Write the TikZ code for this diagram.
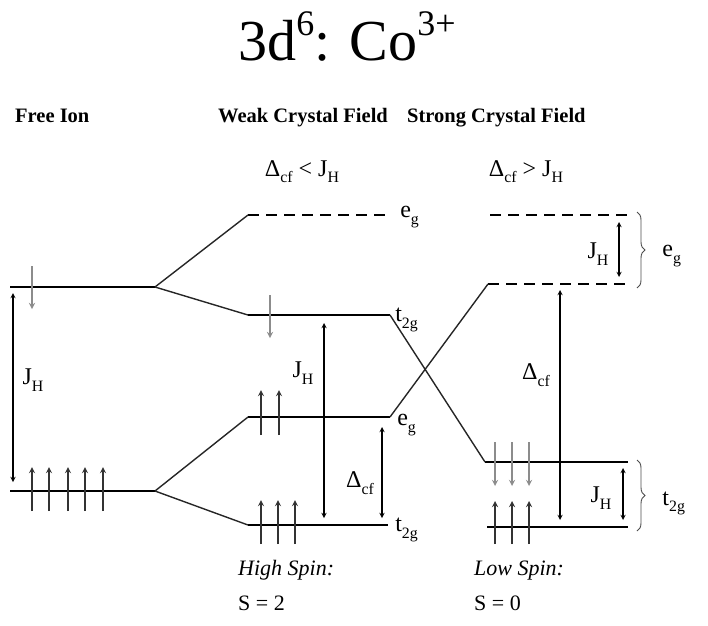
\documentclass[tikz,border=0pt]{standalone}
\usepackage{fontspec}
\setmainfont{Liberation Serif}
\usetikzlibrary{decorations.pathreplacing}

\newcommand{\bajo}[1]{\raisebox{-0.28em}{\scalebox{0.66}{#1}}}
\newcommand{\alto}[1]{\raisebox{0.42em}{\scalebox{0.62}{#1}}}

\tikzset{
    nivel/.style={line width=2.6pt},
    nivelrayado/.style={line width=2.6pt, dash pattern=on 11pt off 7pt},
    enlace/.style={line width=1.4pt, black!85},
    espinarriba/.style={->, line width=1.7pt, black!80},
    espinabajo/.style={->, line width=1.7pt, black!45},
    brecha/.style={<->, line width=1.3pt},
    llave/.style={decorate, decoration={brace, amplitude=8pt}, line width=0.9pt, black!70},
    encab/.style={font=\bfseries\fontsize{20.5}{23}\selectfont, inner sep=0pt},
    etq/.style={font=\fontsize{24}{26}\selectfont, inner sep=1pt, text=black},
    espin/.style={font=\fontsize{22}{24}\selectfont, inner sep=0pt, anchor=base west}
}

\begin{document}
\begin{tikzpicture}[x=1pt, y=-1pt, >=stealth]
    \useasboundingbox (0,0) rectangle (708,625);

    % 1. Título y encabezados de columnas
    \node[font=\fontsize{58}{62}\selectfont, anchor=base] (titulo) at (347,60) {3d\alto{6}: Co\alto{3+}};
    \node[encab, anchor=base west] (libre) at (15,122) {Free Ion};
    \node[encab, anchor=base west] (debil) at (218,122) {Weak Crystal Field};
    \node[encab, anchor=base west] (fuerte) at (407,122) {Strong Crystal Field};
    \node[etq, anchor=base] (condDebil) at (302,176) {Δ\bajo{cf} < J\bajo{H}};
    \node[etq, anchor=base] (condFuerte) at (526,176) {Δ\bajo{cf} > J\bajo{H}};

    % 2. Niveles del ion libre
    \coordinate (FU1) at (10,287);  \coordinate (FU2) at (155,287);
    \coordinate (FL1) at (10,491);  \coordinate (FL2) at (155,491);
    \draw[nivel] (FU1) -- (FU2);
    \draw[nivel] (FL1) -- (FL2);

    % 3. Niveles del campo débil
    \coordinate (WE1) at (248,215); \coordinate (WE2) at (390,215);
    \coordinate (WT1) at (248,315); \coordinate (WT2) at (390,315);
    \coordinate (We1) at (248,417); \coordinate (We2) at (390,417);
    \coordinate (Wt1) at (248,525); \coordinate (Wt2) at (388,525);
    \draw[nivelrayado] (WE1) -- (WE2) node[etq, right=8pt, yshift=-2pt] {e\bajo{g}};
    \draw[nivel] (WT1) -- (WT2) node[etq, anchor=west, xshift=3pt, yshift=-5pt] {t\bajo{2g}};
    \draw[nivel] (We1) -- (We2) node[etq, anchor=west, xshift=5pt, yshift=-8pt] {e\bajo{g}};
    \draw[nivel] (Wt1) -- (Wt2) node[etq, anchor=west, xshift=5pt, yshift=-5pt] {t\bajo{2g}};

    % 4. Niveles del campo fuerte
    \coordinate (SE1) at (490,215); \coordinate (SE2) at (628,215);
    \coordinate (Se1) at (488,284); \coordinate (Se2) at (628,284);
    \coordinate (St1) at (485,462); \coordinate (St2) at (628,462);
    \coordinate (Su1) at (487,527); \coordinate (Su2) at (628,527);
    \draw[nivelrayado] (SE1) -- (SE2);
    \draw[nivelrayado] (Se1) -- (Se2);
    \draw[nivel] (St1) -- (St2);
    \draw[nivel] (Su1) -- (Su2);

    % Llaves que agrupan los niveles desdoblados
    \draw[llave] (637,212) -- (637,288) node[etq, midway, right=24pt, yshift=-6pt] {e\bajo{g}};
    \draw[llave] (637,460) -- (637,531) node[etq, midway, right=24pt, yshift=-8pt] {t\bajo{2g}};

    % 5. Líneas de correlación entre niveles
    \draw[enlace] (FU2) -- (WE1);
    \draw[enlace] (FU2) -- (WT1);
    \draw[enlace] (FL2) -- (We1);
    \draw[enlace] (FL2) -- (Wt1);
    \draw[enlace] (WT2) -- (St1);
    \draw[enlace] (We2) -- (Se1);

    % 6. Electrones (espín arriba y espín abajo)
    \draw[espinabajo] (32,266) -- (32,309);
    \foreach \x in {32,49,68,85,103} {
        \draw[espinarriba] (\x,511) -- (\x,467);
    }
    \draw[espinabajo] (270,295) -- (270,338);
    \foreach \x in {261,279} {
        \draw[espinarriba] (\x,435) -- (\x,390);
    }
    \foreach \x in {261,278,295} {
        \draw[espinarriba] (\x,544) -- (\x,500);
        \draw[espinabajo] (\x+234,442) -- (\x+234,486);
        \draw[espinarriba] (\x+234,544) -- (\x+234,501);
    }

    % 7. Brechas de energía J_H y Delta_cf
    \draw[brecha] (13,293) -- (13,482);
    \node[etq] (jhLibre) at (33,380) {J\bajo{H}};
    \draw[brecha] (324,323) -- (324,518);
    \node[etq] (jhDebil) at (303,373) {J\bajo{H}};
    \draw[brecha] (382,427) -- (382,518);
    \node[etq] (dcfDebil) at (360,483) {Δ\bajo{cf}};
    \draw[brecha] (560,290) -- (560,520);
    \node[etq] (dcfFuerte) at (536,375) {Δ\bajo{cf}};
    \draw[brecha] (619,222) -- (619,277);
    \node[etq] (jhArriba) at (598,254) {J\bajo{H}};
    \draw[brecha] (623,468) -- (623,520);
    \node[etq] (jhAbajo) at (601,498) {J\bajo{H}};

    % 8. Estados de espín resultantes
    \node[espin, font=\itshape\fontsize{22}{24}\selectfont] (altoEspin) at (238,575) {High Spin:};
    \node[espin] (altoS) at (238,610) {S = 2};
    \node[espin, font=\itshape\fontsize{22}{24}\selectfont] (bajoEspin) at (474,575) {Low Spin:};
    \node[espin] (bajoS) at (474,610) {S = 0};

\end{tikzpicture}
\end{document}
